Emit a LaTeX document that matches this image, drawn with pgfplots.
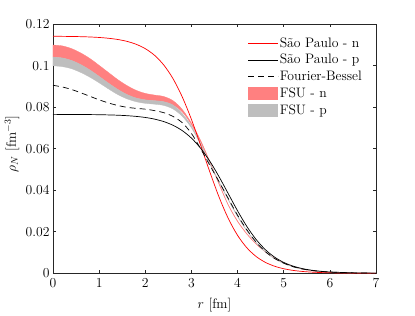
\RequirePackage{fix-cm}
\documentclass[border=0pt]{standalone}
\usepackage{pgfplots}
\pgfplotsset{compat=1.18}
\usepackage{pgfplotstable}
\definecolor{fsun}{RGB}{255,128,128}
\definecolor{fsup}{RGB}{190,190,190}
\definecolor{axgray}{RGB}{38,38,38}
\newcommand{\chartfont}{\fontsize{13.7}{16}\selectfont}
\pgfplotsset{
  lineleg/.style={legend image code/.code={\draw[##1] (0pt,0pt) -- (30pt,0pt);}},
  arealeg/.style={legend image code/.code={\fill[##1] (0pt,-6.3pt) rectangle (30pt,6.3pt);}},
}

\pgfplotstableread{
r    spn      spp      fb
0.0  0.11423  0.07658  0.0906
0.2  0.11419  0.07657  0.0898
0.4  0.11413  0.07655  0.0886
0.6  0.11404  0.07653  0.0870
0.8  0.11389  0.07649  0.0853
1.0  0.11365  0.07643  0.0836
1.2  0.11327  0.07633  0.0821
1.4  0.11269  0.07619  0.0809
1.6  0.11179  0.07596  0.0800
1.8  0.11039  0.07562  0.0795
2.0  0.10826  0.07510  0.0791
2.2  0.10507  0.07431  0.0784
2.4  0.10040  0.07311  0.0774
2.6  0.09383  0.07135  0.0756
2.8  0.08507  0.06878  0.0726
3.0  0.07415  0.06515  0.0674
3.2  0.06168  0.06025  0.0600
3.4  0.04878  0.05398  0.0520
3.6  0.03667  0.04650  0.0441
3.8  0.02636  0.03830  0.0360
4.0  0.01828  0.03010  0.0280
4.2  0.01232  0.02262  0.0210
4.4  0.00814  0.01635  0.0151
4.6  0.00530  0.01144  0.0105
4.8  0.00343  0.00782  0.0072
5.0  0.00220  0.00525  0.0049
5.2  0.00141  0.00349  0.0032
5.4  0.00090  0.00229  0.0021
5.6  0.00057  0.00150  0.0014
5.8  0.00036  0.00098  0.0009
6.0  0.00023  0.00064  0.0006
6.5  0.00007  0.00022  0.0002
7.0  0.00002  0.00007  0.00007
}\data

\begin{document}
\begin{tikzpicture}
\begin{axis}[
  at={(0pt,0pt)}, anchor=south west,
  scale only axis, width=323pt, height=249pt,
  xmin=0, xmax=7, ymin=0, ymax=0.12,
  xtick={0,1,2,3,4,5,6,7},
  ytick={0,0.02,0.04,0.06,0.08,0.1,0.12},
  yticklabels={$0$,$0.02$,$0.04$,$0.06$,$0.08$,$0.1$,$0.12$},
  scaled y ticks=false,
  tick align=inside, major tick length=3.2pt,
  axis line style={axgray, line width=0.6pt},
  tick style={axgray, line width=0.6pt},
  tick label style={font=\chartfont},
  xticklabel style={yshift=-2pt},
  label style={font=\chartfont},
  xlabel={$r$ [fm]},
  xlabel style={yshift=-4pt},
  ylabel={$\rho_N$ [fm$^{-3}$]},
  ylabel style={at={(axis description cs:-0.127,0.52)}, anchor=center},
  legend style={draw=none, fill=none, font=\chartfont,
    at={(axis description cs:0.594,0.96)}, anchor=north west,
    row sep=3.7pt, nodes={inner sep=1pt}},
  legend cell align=left,
]
% FSU - n band (upper edge, then lower edge reversed)
\addplot[fill=fsun, draw=fsun, line width=0.3pt, smooth, forget plot] coordinates {
(0,0.1100)(0.2,0.1096)(0.4,0.1083)(0.6,0.1062)(0.8,0.1035)(1.0,0.1002)(1.2,0.0968)(1.4,0.0934)(1.6,0.0905)(1.8,0.0882)(2.0,0.0867)(2.2,0.0859)(2.4,0.0852)(2.6,0.0832)(2.8,0.0790)(3.0,0.0724)(3.2,0.0640)(3.4,0.0538)(3.6,0.0432)(3.8,0.0330)(4.0,0.0252)(4.2,0.0191)(4.4,0.0143)(4.6,0.0104)(4.8,0.0073)(5.0,0.0050)(5.2,0.0033)(5.4,0.0021)(5.6,0.0013)(5.8,0.0008)(6.0,0.0005)(6.5,0.00015)(7.0,0.00004)
(7.0,0.00003)(6.5,0.00012)(6.0,0.0004)(5.8,0.0007)(5.6,0.0012)(5.4,0.0020)(5.2,0.0032)(5.0,0.0049)(4.8,0.0072)(4.6,0.0103)(4.4,0.0141)(4.2,0.0189)(4.0,0.0249)(3.8,0.0327)(3.6,0.0428)(3.4,0.0533)(3.2,0.0633)(3.0,0.0717)(2.8,0.0778)(2.6,0.0811)(2.4,0.0827)(2.2,0.0832)(2.0,0.0836)(1.8,0.0845)(1.6,0.0862)(1.4,0.0887)(1.2,0.0917)(1.0,0.0949)(0.8,0.0980)(0.6,0.1006)(0.4,0.1026)(0.2,0.1038)(0,0.1042)
} -- cycle;
% FSU - p band
\addplot[fill=fsup, draw=fsup, line width=0.3pt, smooth, forget plot] coordinates {
(0,0.1042)(0.2,0.1038)(0.4,0.1026)(0.6,0.1006)(0.8,0.0980)(1.0,0.0949)(1.2,0.0917)(1.4,0.0887)(1.6,0.0862)(1.8,0.0845)(2.0,0.0836)(2.2,0.0832)(2.4,0.0827)(2.6,0.0811)(2.8,0.0770)(3.0,0.0710)(3.2,0.0626)(3.4,0.0530)(3.6,0.0442)(3.8,0.0357)(4.0,0.0277)(4.2,0.0207)(4.4,0.0150)(4.6,0.0105)(4.8,0.0072)(5.0,0.0048)(5.2,0.0032)(5.4,0.0021)(5.6,0.0014)(5.8,0.0009)(6.0,0.0006)(6.5,0.0002)(7.0,0.00006)
(7.0,0.00005)(6.5,0.00015)(6.0,0.0005)(5.8,0.0008)(5.6,0.0013)(5.4,0.0020)(5.2,0.0031)(5.0,0.0047)(4.8,0.0070)(4.6,0.0103)(4.4,0.0147)(4.2,0.0204)(4.0,0.0273)(3.8,0.0353)(3.6,0.0438)(3.4,0.0525)(3.2,0.0620)(3.0,0.0701)(2.8,0.0757)(2.6,0.0792)(2.4,0.0809)(2.2,0.0815)(2.0,0.0819)(1.8,0.0827)(1.6,0.0841)(1.4,0.0862)(1.2,0.0889)(1.0,0.0918)(0.8,0.0945)(0.6,0.0968)(0.4,0.0986)(0.2,0.0996)(0,0.1000)
} -- cycle;
\addplot[red, line width=0.7pt, smooth, forget plot] table[x=r,y=spn]{\data};
\addplot[black, line width=0.7pt, smooth, forget plot] table[x=r,y=spp]{\data};
\addplot[black, line width=0.7pt, dash pattern=on 6pt off 4pt, smooth, forget plot] table[x=r,y=fb]{\data};

\addlegendimage{red, line width=0.7pt, lineleg}
\addlegendentry{São Paulo - n}
\addlegendimage{black, line width=0.7pt, lineleg}
\addlegendentry{São Paulo - p}
\addlegendimage{black, line width=0.7pt, dash pattern=on 6pt off 4pt, lineleg}
\addlegendentry{Fourier-Bessel}
\addlegendimage{fill=fsun, draw=none, arealeg}
\addlegendentry{FSU - n}
\addlegendimage{fill=fsup, draw=none, arealeg}
\addlegendentry{FSU - p}
\end{axis}
\path (-53pt,-39.7pt) (362pt,273.3pt);
\end{tikzpicture}
\end{document}
